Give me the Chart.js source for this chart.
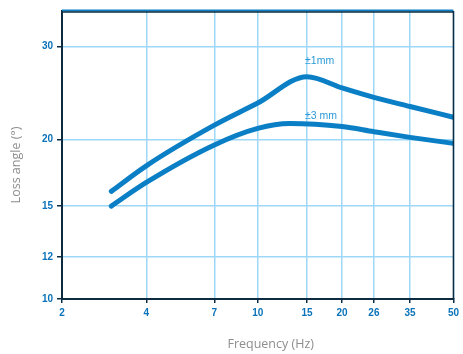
<!DOCTYPE html>
<html>
<head>
<meta charset="utf-8">
<script src="https://cdn.jsdelivr.net/npm/chart.js@4/dist/chart.umd.min.js"></script>
<style>
  html, body { margin: 0; padding: 0; background: #fff; }
  #wrap { width: 463px; height: 354px; }
</style>
</head>
<body>
<div id="wrap"><canvas id="lossChart"></canvas></div>
<script>
// Data
const freqs1 = [3, 4, 7, 10, 15, 20, 26, 35, 50];
const loss1mm = [15.97, 17.85, 21.3, 23.45, 26.3, 25.04, 24.03, 23.1, 22.05];
const freqs3 = [3, 4, 7, 10, 13, 20, 26, 35, 50];
const loss3mm = [14.98, 16.6, 19.54, 21.0, 21.45, 21.17, 20.7, 20.2, 19.68];
const xTicks = [2, 4, 7, 10, 15, 20, 26, 35, 50];
const yTicks = [10, 12, 15, 20, 30];
const curveLabels = ['\u00b11mm', '\u00b13 mm'];
const labelAnchors = [[15, 28.1], [15, 22.2]];

const lineBlue = '#0a7fc6';
const gridBlue = '#9dd8f8';
const tickBlue = '#0a72b8';
const axisDark = '#0c2b40';

// Draws the top/right frame, curve labels and axis titles
const extras = {
    id: 'extras',
    afterDraw(chart) {
        const c = chart.ctx;
        const a = chart.chartArea;
        const xs = chart.scales.x;
        const ys = chart.scales.y;
        c.save();
        // frame top and right
        c.lineWidth = 2;
        c.strokeStyle = lineBlue;
        c.beginPath();
        c.moveTo(a.left, a.top - 0.5);
        c.lineTo(a.right, a.top - 0.5);
        c.stroke();
        c.lineWidth = 1.5;
        c.strokeStyle = axisDark;
        c.beginPath();
        c.moveTo(a.left, a.top + 1);
        c.lineTo(a.right, a.top + 1);
        c.moveTo(a.right, a.top);
        c.lineTo(a.right, a.bottom);
        c.stroke();

        // curve labels
        c.fillStyle = '#2c9ad9';
        c.font = '10.5px "Liberation Sans", Arial, sans-serif';
        c.textAlign = 'left';
        c.textBaseline = 'middle';
        curveLabels.forEach((t, i) => {
            c.fillText(t, xs.getPixelForValue(labelAnchors[i][0]) - 2, ys.getPixelForValue(labelAnchors[i][1]));
        });

        // axis titles
        c.fillStyle = '#8e8e8e';
        c.font = '12.5px "Open Sans", sans-serif';
        c.textAlign = 'center';
        c.fillText('Frequency (Hz)', (a.left + a.right) / 2 + 13, chart.height - 10);
        c.translate(16, (a.top + a.bottom) / 2 + 10);
        c.rotate(-Math.PI / 2);
        c.fillText('Loss angle (\u00b0)', 0, 0);
        c.restore();
    }
};

function curve(label, xs, ys) {
    return {
        label: label,
        data: xs.map((f, i) => ({ x: f, y: ys[i] })),
        borderColor: lineBlue,
        borderWidth: 5,
        borderCapStyle: 'round',
        pointRadius: 0,
        fill: false,
        cubicInterpolationMode: 'monotone'
    };
}

const ctx = document.getElementById('lossChart').getContext('2d');
new Chart(ctx, {
    type: 'line',
    data: {
        datasets: [
            curve(curveLabels[0], freqs1, loss1mm),
            curve(curveLabels[1], freqs3, loss3mm)
        ]
    },
    options: {
        responsive: true,
        maintainAspectRatio: false,
        animation: false,
        layout: { padding: { top: 11, right: 6, left: 0, bottom: 0 } },
        plugins: {
            legend: { display: false },
            tooltip: { enabled: false }
        },
        scales: {
            x: {
                type: 'logarithmic',
                min: 2,
                max: 50,
                afterBuildTicks: (s) => { s.ticks = xTicks.map(v => ({ value: v })); },
                afterFit: (s) => { s.height = 55; },
                ticks: {
                    color: tickBlue,
                    font: { family: '"Liberation Sans", Arial, sans-serif', size: 10, weight: 'bold' },
                    padding: 4,
                    maxRotation: 0,
                    autoSkip: false,
                    callback: (v) => String(v)
                },
                grid: { color: gridBlue, lineWidth: 1.5, tickColor: axisDark, tickLength: 4, tickWidth: 1.5 },
                border: { color: axisDark, width: 2 }
            },
            y: {
                type: 'logarithmic',
                min: 10,
                max: 35,
                afterBuildTicks: (s) => { s.ticks = yTicks.map(v => ({ value: v })); },
                afterFit: (s) => { s.width = 62; },
                ticks: {
                    color: tickBlue,
                    font: { family: '"Liberation Sans", Arial, sans-serif', size: 10, weight: 'bold' },
                    padding: 4,
                    autoSkip: false,
                    callback: (v) => String(v)
                },
                grid: { color: gridBlue, lineWidth: 1.5, tickColor: axisDark, tickLength: 5, tickWidth: 1.5 },
                border: { color: axisDark, width: 2 }
            }
        }
    },
    plugins: [extras]
});
</script>
</body>
</html>
